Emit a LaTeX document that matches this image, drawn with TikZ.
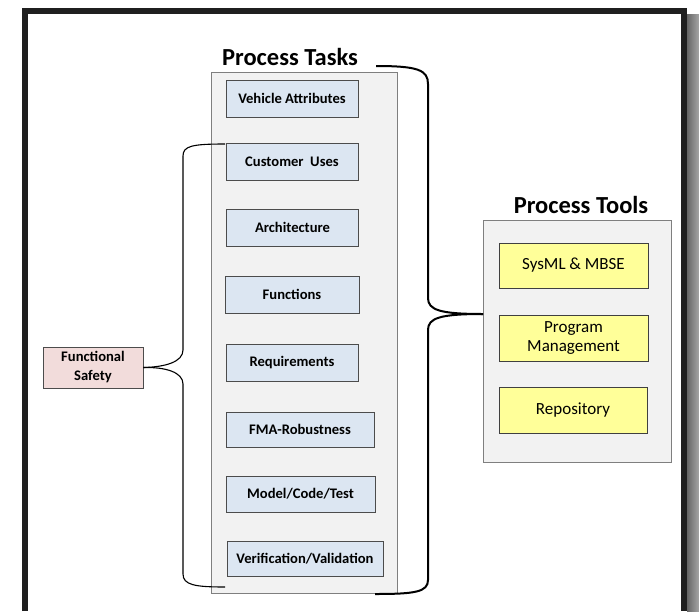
\documentclass[tikz,border=0pt]{standalone}
\usepackage{fontspec}
\setmainfont{Carlito}
\definecolor{taskblue}{HTML}{DCE6F2}
\definecolor{toolyellow}{HTML}{FFFF99}
\definecolor{safepink}{HTML}{F2DCDB}
\definecolor{panelgray}{HTML}{F2F2F2}
\definecolor{edgegray}{HTML}{7F7F7F}
\tikzset{
  panel/.style={draw=edgegray, fill=panelgray, line width=0.9pt},
  taskbox/.style={draw=black!70, fill=taskblue, line width=0.9pt, inner sep=0pt,
    font=\fontsize{14.6}{16}\selectfont\bfseries},
  toolbox/.style={draw=black!75, fill=toolyellow, line width=0.9pt, inner sep=0pt,
    align=center, font=\fontsize{17}{19}\selectfont},
  safebox/.style={draw=black!70, fill=safepink, line width=0.9pt, inner sep=0pt,
    align=center, font=\fontsize{14.6}{19}\selectfont\bfseries},
  heading/.style={font=\fontsize{24.5}{28}\selectfont\bfseries, inner sep=0pt},
  bracethin/.style={draw=black, line width=1.1pt},
  bracethick/.style={draw=black, line width=2pt},
}
\begin{document}
\begin{tikzpicture}[x=1pt,y=-1pt]
\useasboundingbox (0,0) rectangle (699,611);
\fill[white] (0,0) rectangle (699,611);
% shadow and frame
\shade[left color=black!60, right color=black!35] (687,14) rectangle (699,611);
\draw[black!88, line width=6pt] (25,611) -- (25,11) -- (684,11) -- (684,611);

% panels
\node[panel, minimum width=186, minimum height=521, inner sep=0pt, anchor=north west] (taskpanel) at (211,72) {};
\node[panel, minimum width=188, minimum height=242, inner sep=0pt, anchor=north west] (toolpanel) at (483,220) {};

\node[heading] (taskhead) at (290,57) {Process Tasks};
\node[heading] (toolhead) at (581,205) {Process Tools};

% task boxes
\node[taskbox, minimum width=132, minimum height=37] (va) at (292,98.5) {Vehicle Attributes};
\node[taskbox, minimum width=132, minimum height=37] (cu) at (292,161.5) {Customer\ \ Uses};
\node[taskbox, minimum width=132, minimum height=37] (ar) at (292.5,227.5) {Architecture};
\node[taskbox, minimum width=134, minimum height=37] (fn) at (292,294.5) {Functions};
\node[taskbox, minimum width=132, minimum height=37] (rq) at (292,362.5) {Requirements};
\node[taskbox, minimum width=148, minimum height=35] (fma) at (300,429.5) {FMA-Robustness};
\node[taskbox, minimum width=149, minimum height=36] (mct) at (300.5,494) {Model/Code/Test};
\node[taskbox, minimum width=156, minimum height=35] (vv) at (305,558.5) {Verification/Validation};

% tool boxes
\node[toolbox, minimum width=149, minimum height=45] (sys) at (573.5,265.5) {SysML \& MBSE};
\node[toolbox, minimum width=149, minimum height=46] (pm) at (573.5,338) {Program\\Management};
\node[toolbox, minimum width=148, minimum height=46] (rep) at (573,410) {Repository};

% functional safety
\node[safebox, minimum width=100, minimum height=41] (fs) at (93,367.5) {Functional\\Safety};

% left brace: Functional Safety -> Customer Uses ... Verification/Validation
\coordinate (lbtop) at (225,144);
\coordinate (lbbot) at (225,587);
\draw[bracethin] (fs.east) .. controls (165,367) and (183,362) .. (183,350)
  -- (183,156) .. controls (183,146) and (192,144) .. (lbtop);
\draw[bracethin] (fs.east) .. controls (165,367) and (183,372) .. (183,384)
  -- (183,574) .. controls (183,585) and (195,587) .. (lbbot);

% right brace: Process Tasks -> Process Tools
\coordinate (rbtop) at (376,66);
\coordinate (rbbot) at (375,594);
\draw[bracethick] (rbtop) .. controls (418,66) and (428,70) .. (428,84)
  -- (428,298) .. controls (428,310) and (440,314) .. (toolpanel.west |- 0,314);
\draw[bracethick] (toolpanel.west |- 0,314) .. controls (440,314) and (428,318) .. (428,330)
  -- (428,580) .. controls (428,592) and (415,594) .. (rbbot);
\end{tikzpicture}
\end{document}
